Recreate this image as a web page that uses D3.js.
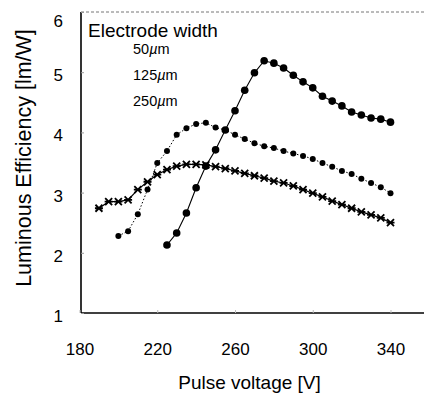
<!DOCTYPE html>
<html>
<head>
<meta charset="utf-8">
<script src="https://cdn.jsdelivr.net/npm/d3@7"></script>
<style>
  body { margin: 0; background: #fff; }
  svg { display: block; font-family: "Liberation Sans", Arial, sans-serif; }
</style>
</head>
<body>
<div id="chart"></div>
<script>
// pulse voltage [V] and luminous efficiency [lm/W] per electrode width
const volts50 = [225, 230, 235, 240, 245, 250, 255, 260, 265, 270, 275, 280, 285, 290, 295, 300, 305, 310, 315, 320, 325, 330, 335, 340];
const eff50 = [2.13, 2.33, 2.66, 3.08, 3.44, 3.71, 4.04, 4.36, 4.70, 4.99, 5.19, 5.15, 5.07, 4.95, 4.84, 4.74, 4.60, 4.52, 4.44, 4.34, 4.29, 4.24, 4.22, 4.17];

const volts125 = [200, 205, 210, 215, 220, 225, 230, 235, 240, 245, 250, 255, 260, 265, 270, 275, 280, 285, 290, 295, 300, 305, 310, 315, 320, 325, 330, 335, 340];
const eff125 = [2.28, 2.36, 2.64, 3.05, 3.49, 3.69, 3.96, 4.07, 4.14, 4.16, 4.08, 4.04, 3.96, 3.89, 3.82, 3.77, 3.74, 3.69, 3.65, 3.61, 3.56, 3.49, 3.43, 3.36, 3.31, 3.23, 3.16, 3.09, 2.99];

const volts250 = [190, 195, 200, 205, 210, 215, 220, 225, 230, 235, 240, 245, 250, 255, 260, 265, 270, 275, 280, 285, 290, 295, 300, 305, 310, 315, 320, 325, 330, 335, 340];
const eff250 = [2.74, 2.85, 2.85, 2.88, 3.05, 3.18, 3.30, 3.38, 3.44, 3.47, 3.47, 3.46, 3.43, 3.40, 3.36, 3.32, 3.28, 3.24, 3.19, 3.16, 3.11, 3.05, 2.99, 2.93, 2.86, 2.80, 2.74, 2.68, 2.63, 2.58, 2.50];

const xTicks = [180, 220, 260, 300, 340];
const yTicks = [1, 2, 3, 4, 5, 6];
const legendTitle = "Electrode width";
const legendWidths = ["50", "125", "250"];

const width = 424, height = 397;

const x = d3.scaleLinear().domain([180, 340]).range([79.5, 390.5]);
const y = d3.scaleLinear().domain([1, 6]).range([313, 12]);

const svg = d3.select("#chart").append("svg")
    .attr("width", width)
    .attr("height", height);

// frame: dashed top, solid left and bottom
svg.append("line")
    .attr("x1", 81).attr("x2", width)
    .attr("y1", y(6)).attr("y2", y(6))
    .attr("stroke", "#777").attr("stroke-dasharray", "3,2");
svg.append("line")
    .attr("x1", 81).attr("x2", width)
    .attr("y1", y(1)).attr("y2", y(1))
    .attr("stroke", "#000").attr("stroke-width", 1.6);
svg.append("line")
    .attr("x1", 81).attr("x2", 81)
    .attr("y1", y(6)).attr("y2", y(1))
    .attr("stroke", "#000").attr("stroke-width", 1.6);

const yAxis = svg.append("g")
    .attr("transform", "translate(81,0)")
    .call(d3.axisLeft(y).tickValues(yTicks).tickSizeInner(-3).tickSizeOuter(0).tickPadding(18).tickFormat(d3.format("d")));
yAxis.select(".domain").remove();
yAxis.selectAll(".tick line").attr("stroke", "#999");
yAxis.selectAll(".tick text")
    .attr("font-size", 17)
    .attr("font-family", null)
    .attr("dy", d => d === 6 ? "0.85em" : "0.5em");

const xAxis = svg.append("g")
    .attr("transform", `translate(0,${y(1)})`)
    .call(d3.axisBottom(x).tickValues(xTicks).tickSizeInner(-3).tickSizeOuter(0).tickPadding(30));
xAxis.select(".domain").remove();
xAxis.selectAll(".tick line").attr("stroke", "#bbb");
xAxis.selectAll(".tick text")
    .attr("font-size", 17)
    .attr("font-family", null);

// axis titles
svg.append("text")
    .attr("transform", "translate(31,158) rotate(-90)")
    .attr("text-anchor", "middle")
    .attr("font-size", 21.5)
    .text("Luminous Efficiency [lm/W]");

svg.append("text")
    .attr("x", 249.5).attr("y", 389)
    .attr("text-anchor", "middle")
    .attr("font-size", 19)
    .text("Pulse voltage [V]");

// legend (text only)
svg.append("text")
    .attr("x", 88).attr("y", 37)
    .attr("font-size", 19)
    .text(legendTitle);
const legendY = [54, 80, 106];
legendWidths.forEach((t, i) => {
    const lt = svg.append("text")
        .attr("x", 133).attr("y", legendY[i])
        .attr("font-size", 14.5);
    lt.append("tspan").text(t);
    lt.append("tspan").attr("font-style", "italic").text("\u00b5");
    lt.append("tspan").text("m");
});

const line = d3.line().x(d => x(d[0])).y(d => y(d[1]));

const s50 = volts50.map((v, i) => [v, eff50[i]]);
const s125 = volts125.map((v, i) => [v, eff125[i]]);
const s250 = volts250.map((v, i) => [v, eff250[i]]);

svg.append("path").datum(s250).attr("d", line)
    .attr("fill", "none").attr("stroke", "#000").attr("stroke-width", 1.2);
svg.append("path").datum(s125).attr("d", line)
    .attr("fill", "none").attr("stroke", "#000").attr("stroke-width", 1).attr("stroke-dasharray", "1.5,2");
svg.append("path").datum(s50).attr("d", line)
    .attr("fill", "none").attr("stroke", "#000").attr("stroke-width", 1.1);

// markers
svg.append("g").selectAll("path")
    .data(s250)
    .join("path")
    .attr("transform", d => `translate(${x(d[0])},${y(d[1])})`)
    .attr("d", "M-3.5,-3.5L3.5,3.5M-3.5,3.5L3.5,-3.5M-4,0L4,0")
    .attr("stroke", "#000").attr("stroke-width", 1.8).attr("fill", "none");

svg.append("g").selectAll("circle")
    .data(s125)
    .join("circle")
    .attr("cx", d => x(d[0])).attr("cy", d => y(d[1]))
    .attr("r", 3).attr("fill", "#000");

svg.append("g").selectAll("circle")
    .data(s50)
    .join("circle")
    .attr("cx", d => x(d[0])).attr("cy", d => y(d[1]))
    .attr("r", 3.8).attr("fill", "#000");
</script>
</body>
</html>
